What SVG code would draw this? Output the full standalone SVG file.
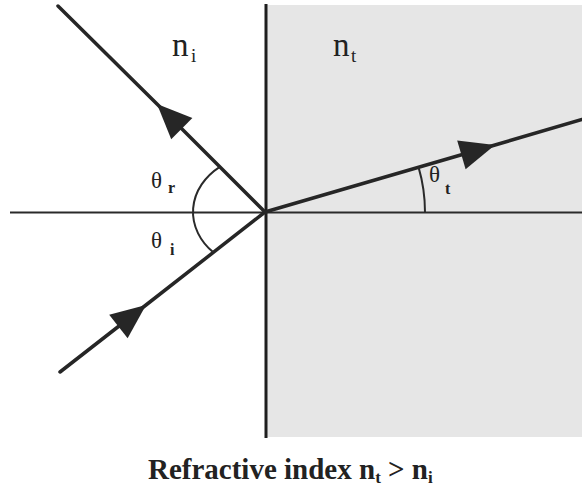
<svg xmlns="http://www.w3.org/2000/svg" width="582" height="491" viewBox="0 0 582 491">
<style>
.ray{fill:none;stroke:#262626;stroke-width:3.5;stroke-linecap:round}
.thin{fill:none;stroke:#2a2a2a;stroke-width:2}
.lbl{font-family:"Liberation Serif","Times New Roman",serif;fill:#222}
.sub{font-family:"Liberation Serif","Times New Roman",serif;fill:#222;font-weight:bold}
</style>
<defs>
<marker id="arr" markerUnits="userSpaceOnUse" markerWidth="40" markerHeight="40" refX="0" refY="0" viewBox="-30 -15 32 30" orient="auto" overflow="visible">
<path d="M0,0 L-28,-12 L-28,12 Z" fill="#262626"/>
</marker>
</defs>
<g id="medium">
<rect x="266" y="5" width="316" height="432" fill="#e6e6e6"/>
</g>
<g id="connectors">
<line id="interface" x1="266" y1="4" x2="266" y2="438" stroke="#1e1e1e" stroke-width="3"/>
<line id="normal" x1="10" y1="212.5" x2="582" y2="212.5" stroke="#2a2a2a" stroke-width="2"/>
<path id="incident" class="ray" d="M60,372 L146,305 L265,212" marker-mid="url(#arr)"/>
<path id="reflected" class="ray" d="M265,212 L157,104 L58,6" marker-mid="url(#arr)"/>
<path id="refracted" class="ray" d="M265,212 L495,145 L582,119.5" marker-mid="url(#arr)"/>
<path id="arc-ri" class="thin" d="M219.8,166.8 A72,58 0 0 0 213.3,252.3"/>
<path id="arc-t" class="thin" d="M418.6,167.4 A160,160 0 0 1 425,212"/>
</g>
<g id="label-ni">
<text class="lbl" x="172" y="56" font-size="33">n</text>
<text class="lbl" x="191" y="62" font-size="19">i</text>
</g>
<g id="label-nt">
<text class="lbl" x="333" y="56" font-size="33">n</text>
<text class="lbl" x="351" y="62" font-size="19">t</text>
</g>
<g id="label-thr">
<text class="lbl" x="151" y="188" font-size="23">θ</text>
<text class="sub" x="168" y="193" font-size="16">r</text>
</g>
<g id="label-thi">
<text class="lbl" x="151" y="248" font-size="23">θ</text>
<text class="sub" x="170" y="255" font-size="16">i</text>
</g>
<g id="label-tht">
<text class="lbl" x="429" y="182" font-size="23">θ</text>
<text class="sub" x="445" y="194" font-size="16">t</text>
</g>
<g id="caption">
<text class="lbl" x="148" y="479" font-size="29" font-weight="bold">Refractive index n<tspan font-size="17" dy="4">t</tspan><tspan dy="-4"> &gt; n</tspan><tspan font-size="17" dy="4">i</tspan></text>
</g>
</svg>
